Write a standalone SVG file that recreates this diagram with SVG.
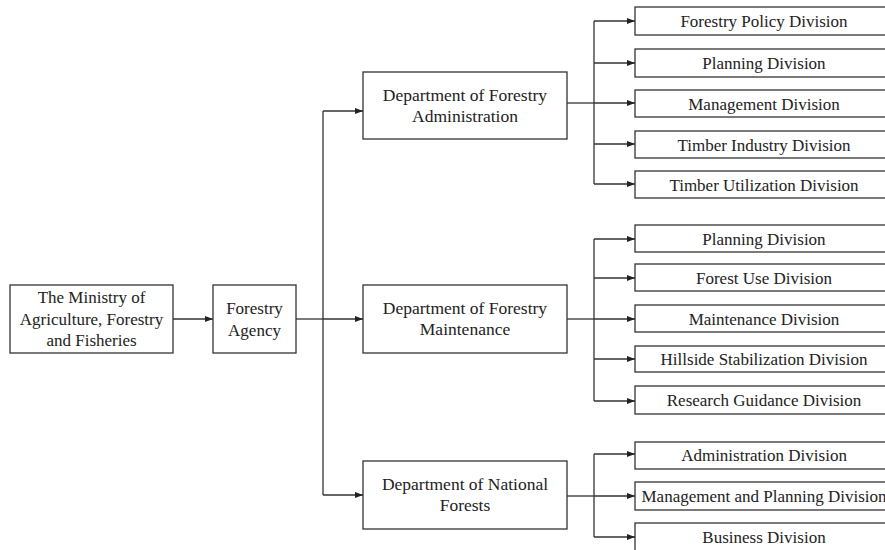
<svg xmlns="http://www.w3.org/2000/svg" width="885" height="550" viewBox="0 0 885 550">
<defs>
<marker id="ah" markerWidth="8" markerHeight="6" refX="8" refY="3" orient="auto" markerUnits="userSpaceOnUse">
<path d="M0,0 L8,3 L0,6 Z" fill="#222"/>
</marker>
<style>
rect{fill:#fff;stroke:#333;stroke-width:1.3}
text{font-size:17px;fill:#222;text-anchor:middle}
.d{font-size:17.5px}
.c line{stroke:#333;stroke-width:1.3;fill:none}
.a{marker-end:url(#ah)}
</style>
</defs>
<g class="c" id="connectors">
<line class="a" x1="173" y1="319" x2="213" y2="319"/>
<line x1="296" y1="319" x2="323" y2="319"/>
<line x1="323" y1="111" x2="323" y2="495"/>
<line class="a" x1="323" y1="111" x2="363" y2="111"/>
<line class="a" x1="323" y1="319" x2="363" y2="319"/>
<line class="a" x1="323" y1="495" x2="363" y2="495"/>
<line x1="567" y1="103" x2="594" y2="103"/>
<line x1="594" y1="21" x2="594" y2="184"/>
<line class="a" x1="594" y1="21" x2="635" y2="21"/>
<line class="a" x1="594" y1="63" x2="635" y2="63"/>
<line class="a" x1="594" y1="103" x2="635" y2="103"/>
<line class="a" x1="594" y1="144" x2="635" y2="144"/>
<line class="a" x1="594" y1="184" x2="635" y2="184"/>
<line x1="567" y1="319" x2="594" y2="319"/>
<line x1="594" y1="239" x2="594" y2="401"/>
<line class="a" x1="594" y1="239" x2="635" y2="239"/>
<line class="a" x1="594" y1="278" x2="635" y2="278"/>
<line class="a" x1="594" y1="319" x2="635" y2="319"/>
<line class="a" x1="594" y1="359" x2="635" y2="359"/>
<line class="a" x1="594" y1="401" x2="635" y2="401"/>
<line x1="567" y1="496" x2="594" y2="496"/>
<line x1="594" y1="454" x2="594" y2="537"/>
<line class="a" x1="594" y1="454" x2="635" y2="454"/>
<line class="a" x1="594" y1="496" x2="635" y2="496"/>
<line class="a" x1="594" y1="537" x2="635" y2="537"/>
</g>
<g id="ministry"><rect x="10" y="285" width="163" height="68"/>
<text font-family="'Liberation Serif', serif" x="91.5" y="303">The Ministry of</text><text font-family="'Liberation Serif', serif" x="91.5" y="325">Agriculture, Forestry</text><text font-family="'Liberation Serif', serif" x="91.5" y="346">and Fisheries</text></g>
<g id="agency"><rect x="213" y="285" width="83" height="68"/>
<text font-family="'Liberation Serif', serif" x="254.5" y="314">Forestry</text><text font-family="'Liberation Serif', serif" x="254.5" y="336">Agency</text></g>
<g id="dept-admin"><rect x="363" y="72" width="204" height="67"/>
<text class="d" font-family="'Liberation Serif', serif" x="465" y="101">Department of Forestry</text><text class="d" font-family="'Liberation Serif', serif" x="465" y="122">Administration</text></g>
<g id="dept-maint"><rect x="363" y="285" width="204" height="68"/>
<text class="d" font-family="'Liberation Serif', serif" x="465" y="314">Department of Forestry</text><text class="d" font-family="'Liberation Serif', serif" x="465" y="335">Maintenance</text></g>
<g id="dept-national"><rect x="363" y="461" width="204" height="68"/>
<text class="d" font-family="'Liberation Serif', serif" x="465" y="490">Department of National</text><text class="d" font-family="'Liberation Serif', serif" x="465" y="511">Forests</text></g>
<g id="a1"><rect x="635" y="7" width="258" height="28"/><text font-family="'Liberation Serif', serif" x="764" y="27">Forestry Policy Division</text></g>
<g id="a2"><rect x="635" y="49" width="258" height="28"/><text font-family="'Liberation Serif', serif" x="764" y="69">Planning Division</text></g>
<g id="a3"><rect x="635" y="90" width="258" height="27"/><text font-family="'Liberation Serif', serif" x="764" y="110">Management Division</text></g>
<g id="a4"><rect x="635" y="131" width="258" height="27"/><text font-family="'Liberation Serif', serif" x="764" y="151">Timber Industry Division</text></g>
<g id="a5"><rect x="635" y="171" width="258" height="27"/><text font-family="'Liberation Serif', serif" x="764" y="191">Timber Utilization Division</text></g>
<g id="m1"><rect x="635" y="225" width="258" height="27"/><text font-family="'Liberation Serif', serif" x="764" y="245">Planning Division</text></g>
<g id="m2"><rect x="635" y="264" width="258" height="27"/><text font-family="'Liberation Serif', serif" x="764" y="284">Forest Use Division</text></g>
<g id="m3"><rect x="635" y="305" width="258" height="27"/><text font-family="'Liberation Serif', serif" x="764" y="325">Maintenance Division</text></g>
<g id="m4"><rect x="635" y="346" width="258" height="26"/><text font-family="'Liberation Serif', serif" x="764" y="365">Hillside Stabilization Division</text></g>
<g id="m5"><rect x="635" y="386" width="258" height="28"/><text font-family="'Liberation Serif', serif" x="764" y="406">Research Guidance Division</text></g>
<g id="n1"><rect x="635" y="442" width="258" height="27"/><text font-family="'Liberation Serif', serif" x="764" y="461">Administration Division</text></g>
<g id="n2"><rect x="635" y="482" width="258" height="28"/><text font-family="'Liberation Serif', serif" x="764" y="502">Management and Planning Division</text></g>
<g id="n3"><rect x="635" y="523" width="258" height="30"/><text font-family="'Liberation Serif', serif" x="764" y="543">Business Division</text></g>
</svg>
